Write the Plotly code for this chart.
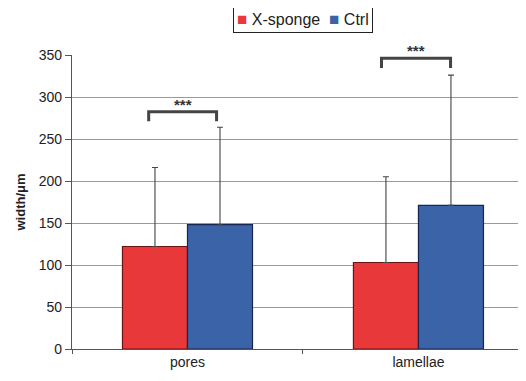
import plotly.graph_objects as go

categories = ["pores", "lamellae"]
xsponge_mean = [122, 103]
xsponge_sd = [94, 102]
ctrl_mean = [148, 171]
ctrl_sd = [116, 155]
y_ticks = [0, 50, 100, 150, 200, 250, 300, 350]
signif = ["***", "***"]
series_names = ["X-sponge", "Ctrl"]
series_colors = ["#E8383A", "#3A63A8"]

font = "Liberation Sans, Arial, sans-serif"

# page body has an 8px default margin; figure is sized to compensate
W, H = 518, 373
L, R, T, B = 64, 2, 47, 32

fig = go.Figure()
fig.add_trace(go.Bar(
    name=series_names[0], x=categories, y=xsponge_mean,
    marker=dict(color=series_colors[0], line=dict(color="#6b1214", width=1.2)),
    error_y=dict(type="data", array=xsponge_sd, arrayminus=[0, 0], symmetric=False,
                 color="#444444", thickness=1.1, width=3),
))
fig.add_trace(go.Bar(
    name=series_names[1], x=categories, y=ctrl_mean,
    marker=dict(color=series_colors[1], line=dict(color="#16264f", width=1.2)),
    error_y=dict(type="data", array=ctrl_sd, arrayminus=[0, 0], symmetric=False,
                 color="#444444", thickness=1.1, width=3),
))

# significance brackets
br = [(-0.168, 0.126, 282.5, 271), (-0.160, 0.139, 346, 334.5)]
for i, (x0, x1, ytop, yleg) in enumerate(br):
    fig.add_shape(type="path", xref="x", yref="y",
                  path=f"M {i + x0} {yleg} L {i + x0} {ytop} L {i + x1} {ytop} L {i + x1} {yleg}",
                  line=dict(color="#444444", width=3))
    fig.add_annotation(x=i + (x0 + x1) / 2, y=ytop, xref="x", yref="y", text=f"<b>{signif[i]}</b>",
                       showarrow=False, yanchor="bottom", yshift=-3,
                       font=dict(family=font, size=15, color="#333333"))

# legend box
legend_text = "&nbsp;&nbsp;".join(
    f"<span style='color:{c};font-size:17px'>■</span> {n}" for n, c in zip(series_names, series_colors)
)
pw, ph = W - L - R, H - T - B
fig.add_annotation(x=(303 - 8 - L) / pw, y=(H - B - (20 - 8)) / ph, xref="paper", yref="paper",
                   text=legend_text,
                   showarrow=False, xanchor="center", yanchor="middle",
                   font=dict(family=font, size=16, color="#222222"),
                   bordercolor="#222222", borderwidth=1, borderpad=3, bgcolor="white")

fig.update_layout(
    width=W, height=H,
    margin=dict(l=L, r=R, t=T, b=B, autoexpand=False),
    paper_bgcolor="white", plot_bgcolor="white",
    barmode="group", bargap=0.437, bargroupgap=0,
    font=dict(family=font, size=13, color="#333333"),
    showlegend=False,
)

fig.update_xaxes(
    type="category", range=[-0.5, 1.457],
    showline=True, linecolor="#555555", linewidth=1.2,
    ticks="outside", tickson="boundaries", ticklen=4, tickcolor="#555555",
    showgrid=False, tickfont=dict(size=14, color="#222222"), automargin=False,
)
fig.update_yaxes(
    range=[0, 350], tickvals=y_ticks,
    showline=True, linecolor="#555555", linewidth=1.2,
    ticks="outside", ticklen=6, tickcolor="#555555",
    showgrid=True, gridcolor="#9a9a9a", gridwidth=1,
    tickfont=dict(size=14, color="#222222"),
    title=dict(text="<b>width/μm</b>", font=dict(size=13, color="#222222"), standoff=10),
    zeroline=False, automargin=False,
)

fig.write_html("out.html")
